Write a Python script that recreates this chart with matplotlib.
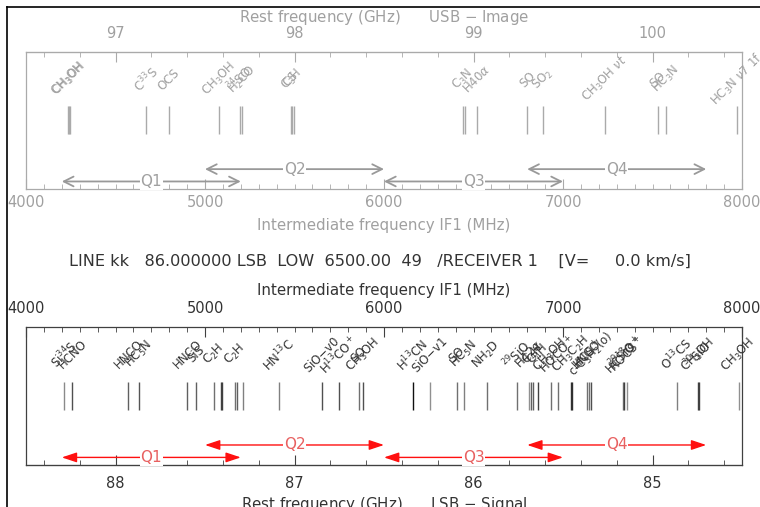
import matplotlib
matplotlib.use("Agg")
import matplotlib.pyplot as plt
from matplotlib.ticker import MultipleLocator
from matplotlib.lines import Line2D

LO_MHZ = 92500.0

# image sideband (USB) lines, IF in MHz
image_if = [4236, 4242, 4247, 4670, 4797, 5080, 5196, 5207, 5479, 5488, 5499,
            6440, 6453, 6521, 6801, 6890, 7233, 7529, 7575, 7970]
image_labels = ["CH$_3$OH", "CH$_3$OH", "", "C$^{33}$S", "OCS", "CH$_3$OH",
                "$^{34}$SO", "H$_2$CO", "CS", "C$_3$H", "", "C$_3$N", "", "H40$\\alpha$",
                "SO", "SO$_2$", "CH$_3$OH $\\nu t$", "SO", "HC$_3$N",
                "HC$_3$N $\\nu$7 1f"]

# signal sideband (LSB) lines, IF in MHz
signal_if = [4211, 4259, 4572, 4633, 4901, 4950, 5050, 5091, 5097, 5169, 5179,
             5211, 5411, 5652, 5747, 5860, 5884, 6160, 6255, 6406, 6445, 6575,
             6741, 6810, 6821, 6831, 6860, 6931, 6970, 7043, 7050, 7132, 7143,
             7158, 7333, 7342, 7359, 7635, 7755, 7758, 7982]
signal_labels = ["Si$^{34}$S", "HCNO", "HNCO", "HC$_5$N", "HNCO", "SiS",
                 "C$_2$H", "", "", "C$_2$H", "", "", "HN$^{13}$C", "SiO$-$v0",
                 "H$^{13}$CO$^+$", "SO", "CH$_3$OH", "H$^{13}$CN", "SiO$-$v1",
                 "SO", "HC$_5$N", "NH$_2$D", "$^{29}$SiO", "H42$\\alpha$", "",
                 "C$_4$H", "C$_4$H", "CH$_3$OH", "HOCO$^+$", "CH$_3$C$_2$H", "",
                 "HNCO", "HCS$^+$", "c-C$_3$H$_2$(o)", "$^{29}$SiO",
                 "HC$^{18}$O$^+$", "HOCS$^+$", "O$^{13}$CS", "$^{30}$SiO",
                 "CH$_3$OH", "CH$_3$OH"]
signal_gray = ["#8a8a8a", "#505050", "#606060", "#555555", "#606060", "#606060",
               "#707070", "#404040", "#404040", "#707070", "#606060", "#808080",
               "#808080", "#505050", "#505050", "#707070", "#505050", "#101010",
               "#909090", "#707070", "#808080", "#707070", "#707070", "#909090",
               "#606060", "#606060", "#404040", "#707070", "#707070", "#303030",
               "#303030", "#707070", "#707070", "#505050", "#707070", "#404040",
               "#909090", "#808080", "#404040", "#404040", "#909090"]

quarters = ["Q1", "Q2", "Q3", "Q4"]
quarter_lo = [4200, 5000, 6000, 6800]
quarter_hi = [5200, 6000, 7000, 7800]

info = "LINE kk   86.000000 LSB  LOW  6500.00  49   /RECEIVER 1    [V=     0.0 km/s]"


def setup(ax, col, txtcol):
    ax.set_xlim(4000, 8000)
    ax.set_ylim(0, 1)
    ax.set_yticks([])
    for s in ax.spines.values():
        s.set_color(col)
        s.set_linewidth(0.9)
    ax.xaxis.set_major_locator(MultipleLocator(1000))
    ax.xaxis.set_minor_locator(MultipleLocator(100))
    ax.tick_params(axis="x", which="both", direction="in", colors=col,
                   labelcolor=txtcol, labelsize=10.5, pad=4)
    ax.tick_params(axis="x", which="major", length=7)
    ax.tick_params(axis="x", which="minor", length=3.5)


def rest_axis(ax, where, sign, col, txtcol, label):
    sec = ax.secondary_xaxis(where, functions=(lambda f: (LO_MHZ + sign * f) / 1000.0,
                                               lambda r: (r * 1000.0 - LO_MHZ) * sign))
    sec.xaxis.set_major_locator(MultipleLocator(1))
    sec.xaxis.set_minor_locator(MultipleLocator(0.2))
    sec.tick_params(axis="x", which="both", direction="in", colors=col,
                    labelcolor=txtcol, labelsize=10.5, pad=8)
    sec.tick_params(axis="x", which="major", length=7)
    sec.tick_params(axis="x", which="minor", length=3.5)
    sec.spines[where].set_color(col)
    sec.set_xlabel(label, color=txtcol, fontsize=10.8, labelpad=3)
    return sec


def draw_lines(ax, xs, labels, colors, ylab, textcol):
    ax.vlines(xs, 0.40, 0.605, colors=colors, lw=1.0)
    for x, lab in zip(xs, labels):
        if lab:
            ax.text(x, ylab, lab, rotation=45, rotation_mode="anchor",
                    ha="center", va="center", fontsize=8.5, color=textcol, clip_on=False)


def draw_quarters(ax, col, txtcol, style, lw):
    for i, (q, a, b) in enumerate(zip(quarters, quarter_lo, quarter_hi)):
        y = 0.055 if i % 2 == 0 else 0.145
        ax.annotate("", xy=(b, y), xytext=(a, y),
                    arrowprops=dict(arrowstyle=style, color=col, lw=lw,
                                    shrinkA=0, shrinkB=0))
        ax.text((a + b) / 2, y, q, ha="center", va="center", fontsize=11, color=txtcol,
                bbox=dict(fc="white", ec="none", pad=0.4))


fig = plt.figure(figsize=(7.6, 5.07), dpi=100)
ax1 = fig.add_axes([26 / 760, 1 - 189 / 507, 716 / 760, 137 / 507])
ax2 = fig.add_axes([26 / 760, 1 - 465 / 507, 716 / 760, 138 / 507])

light = "#aaaaaa"
light_txt = "#a0a0a0"
dark = "#404040"
dark_txt = "#333333"

# image panel
setup(ax1, light, light_txt)
ax1.set_xlabel("Intermediate frequency IF1 (MHz)", color=light_txt, fontsize=10.8, labelpad=6)
rest_axis(ax1, "top", 1, light, light_txt, "Rest frequency (GHz)      USB $-$ Image")
draw_lines(ax1, image_if, image_labels, light, 0.80, light_txt)
draw_quarters(ax1, "#999999", light_txt, "<->,head_length=0.7,head_width=0.35", 1.3)

# signal panel
setup(ax2, dark, dark_txt)
ax2.xaxis.tick_top()
ax2.tick_params(axis="x", which="both", pad=8)
ax2.xaxis.set_label_position("top")
ax2.set_xlabel("Intermediate frequency IF1 (MHz)", color=dark_txt, fontsize=10.8, labelpad=4)
rest_axis(ax2, "bottom", -1, dark, dark_txt, "Rest frequency (GHz)      LSB $-$ Signal")
draw_lines(ax2, signal_if, signal_labels, signal_gray, 0.80, dark_txt)
draw_quarters(ax2, "#ff1010", "#e86060", "<|-|>,head_length=0.9,head_width=0.3", 1.0)

fig.text(0.5, 1 - 261 / 507, info, ha="center", va="center", fontsize=11.6, color=dark_txt)

# screenshot frame on left and top
fig.add_artist(Line2D([7 / 760, 7 / 760], [0, 1 - 7 / 507], color="black", lw=1.2,
                      transform=fig.transFigure))
fig.add_artist(Line2D([7 / 760, 1], [1 - 7 / 507, 1 - 7 / 507], color="black", lw=1.2,
                      transform=fig.transFigure))

fig.savefig("out.png", dpi=100)
